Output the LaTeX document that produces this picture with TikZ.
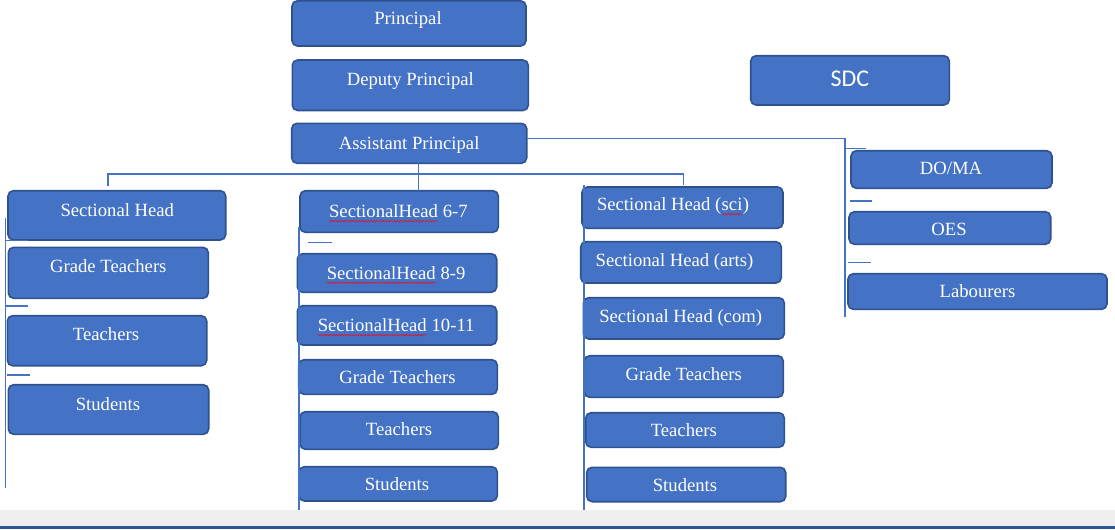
\documentclass[tikz,border=0pt]{standalone}
\usepackage{fontspec}
\setmainfont{Liberation Serif}
\newfontfamily\calibrifont{Carlito}
\usetikzlibrary{fit,decorations.pathmorphing}
\definecolor{boxfill}{HTML}{4472C4}
\definecolor{boxline}{HTML}{2F528F}
\definecolor{connc}{HTML}{4472C4}
\definecolor{bandgray}{HTML}{EFEFEF}
\definecolor{bandblue}{HTML}{2F5597}
\definecolor{spellred}{HTML}{E81123}
\newcommand\spellchk[1]{\tikz[baseline=(sw.base)]{\node[inner sep=0pt,outer sep=0pt,anchor=base] (sw) {#1};\draw[spellred,line width=0.45pt,decorate,decoration={snake,amplitude=0.55pt,segment length=2.2pt}] ([yshift=-2.6pt]sw.base west) -- ([yshift=-2.6pt]sw.base east);}}
\newcommand\obox[5]{\node[orgbox, fit={(#2,#3) (#4,#5)}] (#1) {};}
\tikzset{
  orgbox/.style={draw=boxline, fill=boxfill, line width=1.2pt, rounded corners=4pt, inner sep=0pt},
  lbl/.style={text=white, font=\fontsize{14}{16}\selectfont, inner sep=0pt, anchor=base},
  sdclbl/.style={text=white, font=\calibrifont\fontsize{18}{20}\selectfont, inner sep=0pt, anchor=base},
  conn/.style={draw=connc, line width=0.8pt},
}
\begin{document}
\begin{tikzpicture}[x=0.75pt,y=-0.75pt]
\useasboundingbox (0,0) rectangle (1115,529);
% bottom band
\fill[bandgray] (0,510) rectangle (1115,526);
\fill[bandblue] (0,526) rectangle (1115,529);

% top boxes
\obox{prin}{292}{0.8}{526}{46}
\node[lbl] (tprin) at (408,24) {Principal};
\obox{dep}{292.3}{60}{528.3}{110.5}
\node[lbl] (tdep) at (410.3,85) {Deputy Principal};
\obox{ap}{291.7}{123.3}{526.7}{163.3}
\node[lbl] (tap) at (409.2,149.3) {Assistant Principal};
\obox{sdc}{750.7}{55.7}{949.3}{105}
\node[sdclbl] (tsdc) at (850,86.7) {SDC};

% left column
\obox{shl}{8}{190.7}{225.7}{240}
\node[lbl] (tshl) at (117.3,216) {Sectional Head};
\obox{gtl}{8.3}{247.3}{208.3}{298.3}
\node[lbl] (tgtl) at (108.3,272.7) {Grade Teachers};
\obox{tel}{7.3}{315.7}{206.7}{365.7}
\node[lbl] (ttel) at (106,340.7) {Teachers};
\obox{stl}{8.3}{384.7}{208.7}{434.3}
\node[lbl] (tstl) at (108,410) {Students};

% middle column
\obox{s67}{300}{190.7}{498.3}{232.3}
\node[lbl] (ts67) at (398.3,217.7) {\spellchk{SectionalHead} 6-7};
\obox{s89}{297.3}{253.7}{496.7}{292.3}
\node[lbl] (ts89) at (396,279.3) {\spellchk{SectionalHead} 8-9};
\obox{s1011}{297.3}{305.7}{496.7}{345}
\node[lbl] (ts1011) at (396,331.7) {\spellchk{SectionalHead} 10-11};
\obox{gtm}{298.7}{359.7}{497.3}{394.3}
\node[lbl] (tgtm) at (397.5,383.3) {Grade Teachers};
\obox{tem}{300}{411.7}{498.3}{449.3}
\node[lbl] (ttem) at (399,435.7) {Teachers};
\obox{stm}{299}{466.7}{497.3}{501}
\node[lbl] (tstm) at (397,490.7) {Students};

% right column
\obox{sci}{582}{187}{783}{228.3}
\node[lbl] (tsci) at (673,210.7) {Sectional Head (\spellchk{sci})};
\obox{arts}{580.7}{241.7}{781.3}{283}
\node[lbl] (tarts) at (674.5,266.7) {Sectional Head (arts)};
\obox{com}{583.3}{297.7}{784.3}{339}
\node[lbl] (tcom) at (680.7,322.3) {Sectional Head (com)};
\obox{gtr}{584.3}{355.7}{783.3}{397.3}
\node[lbl] (tgtr) at (683.7,380.7) {Grade Teachers};
\obox{ter}{585.7}{412.7}{784.3}{447.3}
\node[lbl] (tter) at (683.8,436.7) {Teachers};
\obox{str}{586.7}{467.3}{785.7}{501.7}
\node[lbl] (tstr) at (685,491.7) {Students};

% far right column
\obox{doma}{851}{150.7}{1052}{188.3}
\node[lbl] (tdoma) at (951,174.3) {DO/MA};
\obox{oes}{849}{211.7}{1050.7}{244.3}
\node[lbl] (toes) at (949,235) {OES};
\obox{lab}{848}{273.7}{1107}{309.3}
\node[lbl] (tlab) at (977.5,297.3) {Labourers};

% connector coordinates
\coordinate (apbot) at (418.3,163.3);
\coordinate (s67top) at (418.3,190.7);
\coordinate (busL) at (108,174);
\coordinate (busLend) at (108,185.7);
\coordinate (busR) at (683.7,174);
\coordinate (busRend) at (683.7,185);
\coordinate (apright) at (526.7,138.3);
\coordinate (rbusT) at (845,138.3);
\coordinate (rbusB) at (845,316.7);
\coordinate (rt1a) at (845,148.7);
\coordinate (rt1b) at (866,148.7);
\coordinate (rt2a) at (850,201);
\coordinate (rt2b) at (872,201);
\coordinate (rt3a) at (848,262.3);
\coordinate (rt3b) at (871,262.3);
\coordinate (lvT) at (5.7,217.7);
\coordinate (lvB) at (5.7,488);
\coordinate (lt1a) at (5.7,240.7);
\coordinate (lt1b) at (28,240.7);
\coordinate (lt2a) at (5.7,306);
\coordinate (lt2b) at (28,306);
\coordinate (lt3a) at (7,375);
\coordinate (lt3b) at (30,375);
\coordinate (mvT) at (299,227);
\coordinate (mvB) at (299,510);
\coordinate (mta) at (308.3,242.7);
\coordinate (mtb) at (331.7,242.7);
\coordinate (rvT) at (584,185);
\coordinate (rvB) at (584,510);

% connectors
\draw[conn] (apbot) -- (s67top);
\draw[conn] (busLend) -- (busL) -- (busR) -- (busRend);
\draw[conn] (apright) -- (rbusT) -- (rbusB);
\draw[conn] (rt1a) -- (rt1b);
\draw[conn] (rt2a) -- (rt2b);
\draw[conn] (rt3a) -- (rt3b);
\draw[conn] (lvT) -- (lvB);
\draw[conn] (lt1a) -- (lt1b);
\draw[conn] (lt2a) -- (lt2b);
\draw[conn] (lt3a) -- (lt3b);
\draw[conn] (mvT) -- (mvB);
\draw[conn] (mta) -- (mtb);
\draw[conn] (rvT) -- (rvB);
\end{tikzpicture}
\end{document}
